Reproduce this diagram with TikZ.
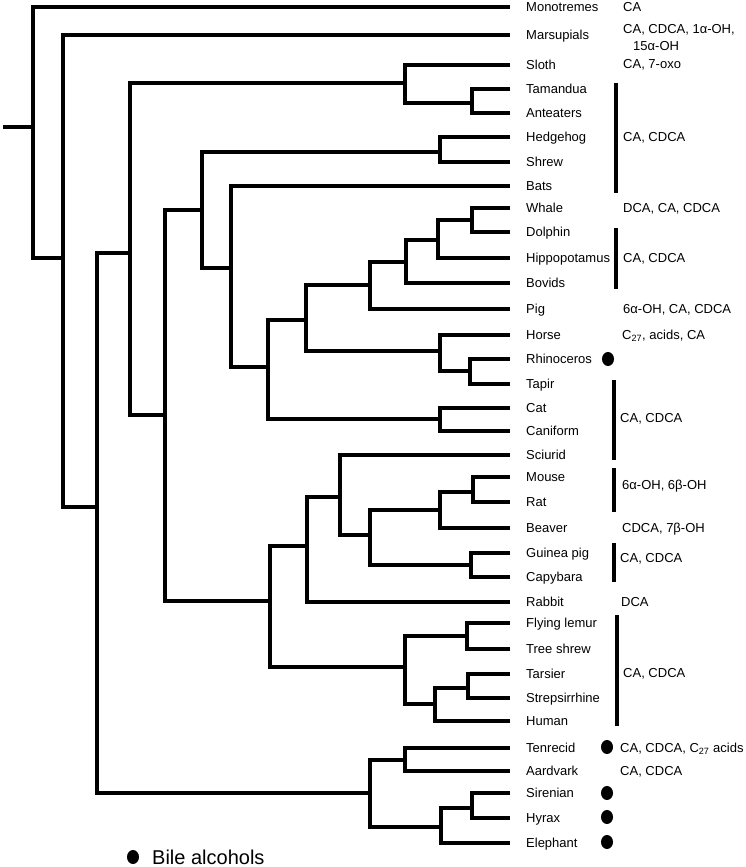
\documentclass[tikz,border=0pt]{standalone}
\usepackage{fontspec}
\setmainfont{Liberation Sans}
\usetikzlibrary{shapes.geometric}

\begin{document}
\begin{tikzpicture}[x=1pt, y=-1pt,
    branch/.style={line width=3.5pt, line join=miter},
    bar/.style={line width=4pt},
    leaf/.style={anchor=west, inner xsep=16pt, inner ysep=0pt, text height=9.4pt, text depth=0pt, font=\fontsize{13}{15}\selectfont},
    acid/.style={anchor=west, inner sep=0pt, text height=9.4pt, text depth=0pt, font=\fontsize{13}{15}\selectfont},
    dot/.style={ellipse, fill=black, minimum width=12pt, minimum height=14pt, inner sep=0pt}]

    \useasboundingbox (0,0) rectangle (745,867);

    % Hojas (nombres de especies)
    \node[leaf] (mono) at (510,7) {Monotremes};
    \node[leaf] (mars) at (510,35) {Marsupials};
    \node[leaf] (sloth) at (510,65) {Sloth};
    \node[leaf] (tama) at (510,89) {Tamandua};
    \node[leaf] (ante) at (510,113) {Anteaters};
    \node[leaf] (hedge) at (510,137) {Hedgehog};
    \node[leaf] (shrew) at (510,162) {Shrew};
    \node[leaf] (bats) at (510,186) {Bats};
    \node[leaf] (whale) at (510,208) {Whale};
    \node[leaf] (dolph) at (510,232) {Dolphin};
    \node[leaf] (hippo) at (510,258) {Hippopotamus};
    \node[leaf] (bovid) at (510,283) {Bovids};
    \node[leaf] (pig) at (510,309) {Pig};
    \node[leaf] (horse) at (510,335) {Horse};
    \node[leaf] (rhino) at (510,359) {Rhinoceros};
    \node[leaf] (tapir) at (510,384) {Tapir};
    \node[leaf] (cat) at (510,408) {Cat};
    \node[leaf] (canif) at (510,431) {Caniform};
    \node[leaf] (sciur) at (510,455) {Sciurid};
    \node[leaf] (mouse) at (510,477) {Mouse};
    \node[leaf] (rat) at (510,502) {Rat};
    \node[leaf] (beaver) at (510,528) {Beaver};
    \node[leaf] (guinea) at (510,553) {Guinea pig};
    \node[leaf] (capy) at (510,577) {Capybara};
    \node[leaf] (rabbit) at (510,602) {Rabbit};
    \node[leaf] (flyl) at (510,623) {Flying lemur};
    \node[leaf] (trees) at (510,649) {Tree shrew};
    \node[leaf] (tars) at (510,674) {Tarsier};
    \node[leaf] (strep) at (510,698) {Strepsirrhine};
    \node[leaf] (human) at (510,721) {Human};
    \node[leaf] (tenrec) at (510,748) {Tenrecid};
    \node[leaf] (aard) at (510,771) {Aardvark};
    \node[leaf] (siren) at (510,793) {Sirenian};
    \node[leaf] (hyrax) at (510,818) {Hyrax};
    \node[leaf] (eleph) at (510,843) {Elephant};

    % Nodos internos
    \coordinate (stub) at (3,127);
    \coordinate (root) at (33,127);
    \coordinate (nA) at (63,258);
    \coordinate (nB) at (97,507);
    \coordinate (nC) at (130,253);
    \coordinate (nXen) at (405,83);
    \coordinate (nAnt) at (472,103);
    \coordinate (nD) at (165,415);
    \coordinate (nF) at (202,210);
    \coordinate (nEuli) at (440,152);
    \coordinate (nG) at (231,268);
    \coordinate (nH) at (268,367);
    \coordinate (nI) at (306,320);
    \coordinate (nCet) at (370,285);
    \coordinate (nCet2) at (406,262);
    \coordinate (nWhip) at (438,240);
    \coordinate (nCeta) at (472,220);
    \coordinate (nPeri) at (440,351);
    \coordinate (nRT) at (470,371);
    \coordinate (nCarn) at (440,419);
    \coordinate (nE) at (270,601);
    \coordinate (nGlir) at (307,546);
    \coordinate (nRod) at (340,497);
    \coordinate (nRod2) at (370,535);
    \coordinate (nMur) at (440,510);
    \coordinate (nMR) at (473,492);
    \coordinate (nCav) at (471,565);
    \coordinate (nEuar) at (405,667);
    \coordinate (nFT) at (467,636);
    \coordinate (nPrim) at (435,704);
    \coordinate (nTS) at (468,688);
    \coordinate (nAfro) at (370,793);
    \coordinate (nTA) at (405,760);
    \coordinate (nPae) at (441,827);
    \coordinate (nSH) at (472,808);

    % Ramas del arbol
    \draw[branch] (stub) -- (root);
    \draw[branch] (root) |- (mono.west);
    \draw[branch] (root) |- (nA);
    \draw[branch] (nA) |- (mars.west);
    \draw[branch] (nA) |- (nB);
    \draw[branch] (nB) |- (nC);
    \draw[branch] (nB) |- (nAfro);
    \draw[branch] (nC) |- (nXen);
    \draw[branch] (nC) |- (nD);
    \draw[branch] (nXen) |- (sloth.west);
    \draw[branch] (nXen) |- (nAnt);
    \draw[branch] (nAnt) |- (tama.west);
    \draw[branch] (nAnt) |- (ante.west);
    \draw[branch] (nD) |- (nF);
    \draw[branch] (nD) |- (nE);
    \draw[branch] (nF) |- (nEuli);
    \draw[branch] (nF) |- (nG);
    \draw[branch] (nEuli) |- (hedge.west);
    \draw[branch] (nEuli) |- (shrew.west);
    \draw[branch] (nG) |- (bats.west);
    \draw[branch] (nG) |- (nH);
    \draw[branch] (nH) |- (nI);
    \draw[branch] (nH) |- (nCarn);
    \draw[branch] (nI) |- (nCet);
    \draw[branch] (nI) |- (nPeri);
    \draw[branch] (nCet) |- (nCet2);
    \draw[branch] (nCet) |- (pig.west);
    \draw[branch] (nCet2) |- (nWhip);
    \draw[branch] (nCet2) |- (bovid.west);
    \draw[branch] (nWhip) |- (nCeta);
    \draw[branch] (nWhip) |- (hippo.west);
    \draw[branch] (nCeta) |- (whale.west);
    \draw[branch] (nCeta) |- (dolph.west);
    \draw[branch] (nPeri) |- (horse.west);
    \draw[branch] (nPeri) |- (nRT);
    \draw[branch] (nRT) |- (rhino.west);
    \draw[branch] (nRT) |- (tapir.west);
    \draw[branch] (nCarn) |- (cat.west);
    \draw[branch] (nCarn) |- (canif.west);
    \draw[branch] (nE) |- (nGlir);
    \draw[branch] (nE) |- (nEuar);
    \draw[branch] (nGlir) |- (nRod);
    \draw[branch] (nGlir) |- (rabbit.west);
    \draw[branch] (nRod) |- (sciur.west);
    \draw[branch] (nRod) |- (nRod2);
    \draw[branch] (nRod2) |- (nMur);
    \draw[branch] (nRod2) |- (nCav);
    \draw[branch] (nMur) |- (nMR);
    \draw[branch] (nMur) |- (beaver.west);
    \draw[branch] (nMR) |- (mouse.west);
    \draw[branch] (nMR) |- (rat.west);
    \draw[branch] (nCav) |- (guinea.west);
    \draw[branch] (nCav) |- (capy.west);
    \draw[branch] (nEuar) |- (nFT);
    \draw[branch] (nEuar) |- (nPrim);
    \draw[branch] (nFT) |- (flyl.west);
    \draw[branch] (nFT) |- (trees.west);
    \draw[branch] (nPrim) |- (nTS);
    \draw[branch] (nPrim) |- (human.west);
    \draw[branch] (nTS) |- (tars.west);
    \draw[branch] (nTS) |- (strep.west);
    \draw[branch] (nAfro) |- (nTA);
    \draw[branch] (nAfro) |- (nPae);
    \draw[branch] (nTA) |- (tenrec.west);
    \draw[branch] (nTA) |- (aard.west);
    \draw[branch] (nPae) |- (nSH);
    \draw[branch] (nPae) |- (eleph.west);
    \draw[branch] (nSH) |- (siren.west);
    \draw[branch] (nSH) |- (hyrax.west);

    % Barras de grupos
    \coordinate (b1a) at (616,83);  \coordinate (b1b) at (616,193);
    \coordinate (b2a) at (616,228); \coordinate (b2b) at (616,289);
    \coordinate (b3a) at (614,380); \coordinate (b3b) at (614,460);
    \coordinate (b4a) at (614,468); \coordinate (b4b) at (614,512);
    \coordinate (b5a) at (614,543); \coordinate (b5b) at (614,582);
    \coordinate (b6a) at (617,615); \coordinate (b6b) at (617,726);
    \draw[bar] (b1a) -- (b1b);
    \draw[bar] (b2a) -- (b2b);
    \draw[bar] (b3a) -- (b3b);
    \draw[bar] (b4a) -- (b4b);
    \draw[bar] (b5a) -- (b5b);
    \draw[bar] (b6a) -- (b6b);

    % Acidos biliares
    \node[acid] (a1) at (623,7) {CA};
    \node[acid] (a2) at (623,29) {CA, CDCA, 1α-OH,};
    \node[acid] (a2b) at (633,46) {15α-OH};
    \node[acid] (a3) at (623,64) {CA, 7-oxo};
    \node[acid] (a4) at (623,137) {CA, CDCA};
    \node[acid] (a5) at (623,208) {DCA, CA, CDCA};
    \node[acid] (a6) at (623,258) {CA, CDCA};
    \node[acid] (a7) at (623,309) {6α-OH, CA, CDCA};
    \node[acid] (a8) at (622,335) {C\textsubscript{27}, acids, CA};
    \node[acid] (a9) at (620,418) {CA, CDCA};
    \node[acid] (a10) at (622,485) {6α-OH, 6β-OH};
    \node[acid] (a11) at (622,528) {CDCA, 7β-OH};
    \node[acid] (a12) at (620,558) {CA, CDCA};
    \node[acid] (a13) at (621,602) {DCA};
    \node[acid] (a14) at (623,673) {CA, CDCA};
    \node[acid] (a15) at (620,748) {CA, CDCA, C\textsubscript{27} acids};
    \node[acid] (a16) at (620,771) {CA, CDCA};

    % Alcoholes biliares
    \node[dot] (d1) at (608,359) {};
    \node[dot] (d2) at (607,747) {};
    \node[dot] (d3) at (607,793) {};
    \node[dot] (d4) at (607,817) {};
    \node[dot] (d5) at (607,842) {};

    % Leyenda
    \node[dot] (ldot) at (133,857) {};
    \node[anchor=west, inner sep=0pt, text height=14.3pt, text depth=0pt, font=\fontsize{20}{22}\selectfont] (legend) at (152,857) {Bile alcohols};

\end{tikzpicture}
\end{document}
